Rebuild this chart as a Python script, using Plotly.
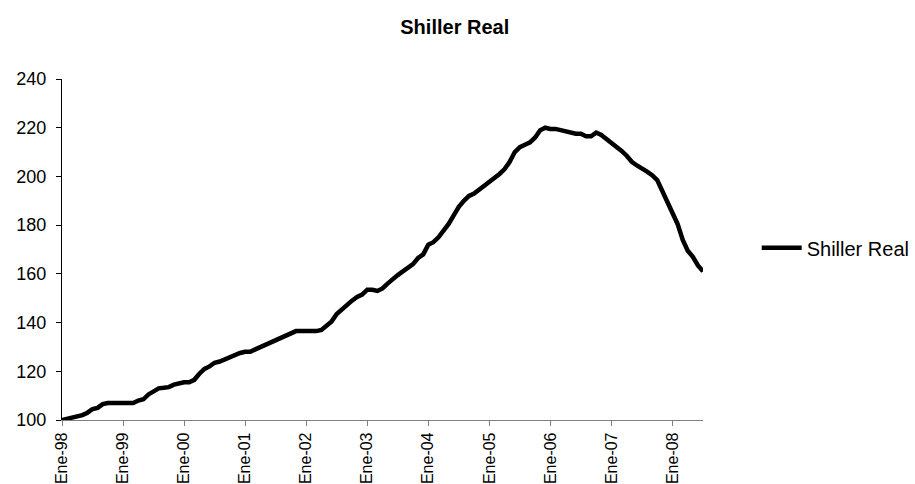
import plotly.graph_objects as go

# Monthly categories, Jan-1998 .. Jul-2008 (Spanish month abbreviations)
meses = ["Ene", "Feb", "Mar", "Abr", "May", "Jun", "Jul", "Ago", "Sep", "Oct", "Nov", "Dic"]
years = ["98", "99", "00", "01", "02", "03", "04", "05", "06", "07", "08"]
categories = [f"{m}-{y}" for y in years for m in meses][:127]

# Shiller real home price index (Jan-1998 = 100)
v1998 = [100, 100.5, 101, 101.5, 102, 103, 104.5, 105, 106.5, 107, 107, 107]
v1999 = [107, 107, 107, 108, 108.5, 110.5, 111.5, 113, 113.2, 113.5, 114.5, 115]
v2000 = [115.5, 115.5, 116.5, 119, 121, 122, 123.5, 124, 125, 125.5, 126.5, 127.5]
v2001 = [128, 128, 129, 130, 130.5, 132, 133, 133.5, 134.5, 135.5, 136.5, 136.5]
v2002 = [136.5, 136.5, 136.5, 137, 138.5, 140.5, 143.5, 145.5, 147.5, 149, 150.5, 151.5]
v2003 = [153.5, 153.5, 153, 154, 156, 158, 159.5, 161, 162.5, 164, 166.5, 168]
v2004 = [172, 173, 175, 177.5, 180.5, 184, 187.5, 190, 192, 193, 194.5, 196]
v2005 = [197.5, 199, 201, 203, 206, 210, 212, 213, 214, 216, 219, 220]
v2006 = [219.5, 219.5, 219, 218.5, 218, 217.5, 217.5, 216.5, 216.5, 218, 217, 215.5]
v2007 = [214, 212.5, 210.5, 208.5, 206, 204.5, 203.5, 202, 200.5, 198.5, 194, 189.5]
v2008 = [185, 180.5, 174, 169.5, 167, 163.5, 161]
values = v1998 + v1999 + v2000 + v2001 + v2002 + v2003 + v2004 + v2005 + v2006 + v2007 + v2008

year_ticks = [f"Ene-{y}" for y in years]
y_ticks = [100, 120, 140, 160, 180, 200, 220, 240]

FONT = "Liberation Sans, Arial, sans-serif"

fig = go.Figure()
fig.add_trace(go.Scatter(
    x=categories, y=values, mode="lines", name="Shiller Real",
    line=dict(color="#000000", width=4.5),
))

fig.update_layout(
    width=915, height=484,
    margin=dict(l=62, r=212, t=79, b=64),
    paper_bgcolor="white", plot_bgcolor="white",
    font=dict(family=FONT, color="#000000", size=18),
    title=dict(text="<b>Shiller Real</b>", x=0.497, xanchor="center",
               y=0.945, yanchor="middle", font=dict(size=20, family=FONT)),
    showlegend=True,
    legend=dict(xref="container", yref="container",
                x=0.827, y=0.488, xanchor="left", yanchor="middle",
                font=dict(size=20, family=FONT), bgcolor="rgba(0,0,0,0)",
                itemwidth=40),
)

fig.update_xaxes(
    type="category", range=[0, 126], automargin=False,
    tickmode="array", tickvals=year_ticks, ticktext=year_ticks,
    tickangle=-90, ticks="outside", ticklen=5, tickcolor="#808080",
    showline=True, linecolor="#808080", linewidth=1.2,
    showgrid=False, zeroline=False,
    tickfont=dict(size=16, family=FONT),
)
fig.update_yaxes(
    range=[100, 240], tickmode="array", tickvals=y_ticks, automargin=False,
    ticks="outside", ticklen=5, tickcolor="#000000",
    showline=True, linecolor="#000000", linewidth=1.2,
    showgrid=False, zeroline=False, ticklabelstandoff=6,
    tickfont=dict(size=18, family=FONT),
)

fig.write_html("out.html")
